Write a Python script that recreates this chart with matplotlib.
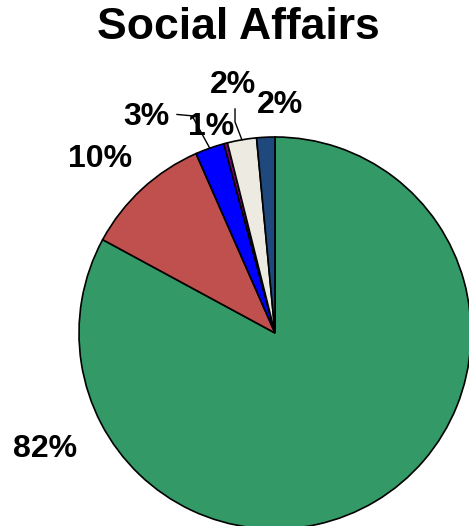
import numpy as np
import matplotlib
matplotlib.use('Agg')
import matplotlib.pyplot as plt

plt.rcParams['font.family'] = ['Liberation Sans', 'DejaVu Sans']

# slices, clockwise from 12 o'clock
shares = [82.9, 10.5, 2.4, 0.3, 2.4, 1.5]
labels = ['82%', '10%', '3%', '1%', '2%', '2%']
colors = ['#339966', '#C0504D', '#0000FF', '#800080', '#ECEAE1', '#1F497D']

# label anchors (center x, baseline y) in pie units (radius = 1)
label_pos = [(-1.171, -0.633), (-0.893, 0.847), (-0.656, 1.061),
             (-0.324, 1.010), (-0.212, 1.224), (0.026, 1.122)]
leaders = {2: [(-0.50, 1.115), (-0.423, 1.108)],
           4: [(-0.204, 1.143), (-0.204, 1.077)]}

W, H = 469, 526
fig = plt.figure(figsize=(W / 100, H / 100), dpi=100)
cx, cy, r = 275, 333, 196
ax = fig.add_axes([(cx - r) / W, (H - cy - r) / H, 2 * r / W, 2 * r / H])

wedges, _ = ax.pie(shares, colors=colors, startangle=90, counterclock=False,
                   radius=1, wedgeprops=dict(edgecolor='black', linewidth=1.2))
ax.set_xlim(-1, 1)
ax.set_ylim(-1, 1)
ax.set_aspect('equal')
ax.axis('off')
for w in wedges:
    w.set_clip_on(False)

for i, (lab, (x, y)) in enumerate(zip(labels, label_pos)):
    ax.text(x, y, lab, ha='center', va='baseline', fontsize=23,
            fontweight='bold', clip_on=False)
    if i in leaders:
        w = wedges[i]
        mid = np.deg2rad((w.theta1 + w.theta2) / 2)
        pts = leaders[i] + [(np.cos(mid), np.sin(mid))]
        xs, ys = zip(*pts)
        ax.plot(xs, ys, color='black', linewidth=1.0, clip_on=False)

fig.text(238 / W, 1 - 39 / H, 'Social Affairs', ha='center', va='baseline',
         fontsize=32, fontweight='bold')

fig.savefig('out.png', dpi=100)
